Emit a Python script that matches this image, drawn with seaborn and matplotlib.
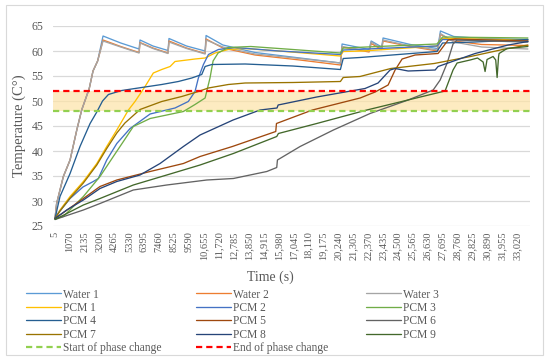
import matplotlib
matplotlib.use("Agg")
import matplotlib.pyplot as plt
import seaborn as sns
import pandas as pd
from matplotlib.lines import Line2D
from matplotlib.patches import Rectangle

# ---------------- data ----------------
tick_times = [5, 1070, 2135, 3200, 4265, 5330, 6395, 7460, 8525, 9590, 10655, 11720,
              12785, 13850, 14915, 15980, 17045, 18110, 19175, 20240, 21305, 22370,
              23435, 24500, 25565, 26630, 27695, 28760, 29825, 30890, 31955, 33020]
tick_labels = ["5", "1070", "2135", "3200", "4265", "5330", "6395", "7460", "8525", "9590",
               "10,655", "11,720", "12,785", "13,850", "14,915", "15,980", "17,045",
               "18,110", "19,175", "20,240", "21,305", "22,370", "23,435", "24,500",
               "25,565", "26,630", "27,695", "28,760", "29,825", "30,890", "31,955", "33,020"]

water1_t = [5, 120, 600, 1080, 1560, 1910, 2450, 2720, 3050, 3436, 4700, 6010, 6080, 7000, 8080,
            8150, 9400, 10730, 10800, 12000, 14300, 17500, 20400, 20520, 22450, 22600, 23350,
            23450, 25400, 27350, 27550, 28500, 30500, 33800]
water1_T = [26.5, 29.5, 34.9, 38.2, 44.2, 48.2, 52.5, 56.0, 58.0, 63.0, 61.6, 60.4, 62.2, 61.0, 60.1,
            62.5, 61.0, 60.0, 63.1, 61.2, 59.7, 58.6, 57.6, 61.4, 60.3, 62.0, 60.8,
            62.6, 61.3, 60.5, 64.0, 62.9, 62.5, 62.3]

water2_t = water1_t
water2_T = [26.5, 29.5, 34.9, 38.2, 44.2, 48.2, 52.5, 56.0, 58.0, 62.2, 60.9, 59.7, 61.7, 60.6, 59.6,
            62.0, 60.6, 59.5, 62.4, 60.6, 59.2, 58.2, 57.2, 60.8, 59.8, 61.5, 60.3,
            62.0, 60.9, 60.0, 63.3, 62.0, 61.3, 61.1]

water3_t = water1_t
water3_T = [26.5, 29.5, 34.9, 38.2, 44.2, 48.2, 52.5, 56.0, 58.0, 62.0, 60.8, 59.6, 61.6, 60.5, 59.5,
            61.8, 60.5, 59.4, 62.2, 60.8, 59.4, 58.5, 57.6, 60.9, 60.0, 61.8, 60.5,
            62.2, 61.0, 60.2, 63.5, 61.8, 60.8, 60.4]

pcm1_t = [5, 360, 1080, 2030, 2990, 3700, 4420, 5250, 5720, 6440, 7030, 7630, 8230, 8580, 10010,
          10730, 11440, 12390, 13590, 16000, 20400, 20600, 22000, 27300, 27700, 30000, 33800]
pcm1_T = [26.5, 28.2, 30.9, 33.9, 37.5, 40.9, 44.2, 48.2, 49.9, 52.9, 55.6, 56.3, 56.9, 57.9, 58.4,
          58.6, 59.6, 60.3, 60.5, 60.0, 59.0, 59.9, 60.0, 61.0, 62.5, 62.4, 62.2]

pcm2_t = [5, 130, 1080, 2000, 2740, 3100, 3700, 4420, 5370, 6800, 8580, 9530, 10010, 10250, 10610,
          10970, 11680, 12870, 16000, 20400, 20600, 27300, 27700, 33800]
pcm2_T = [26.5, 27.2, 30.5, 32.8, 33.9, 34.5, 38.2, 41.5, 44.5, 47.4, 48.6, 49.9, 51.9, 54.6, 57.3,
          59.3, 60.3, 60.7, 60.0, 59.3, 60.2, 61.0, 62.3, 62.0]

pcm3_t = [5, 600, 2030, 3220, 4170, 4890, 5600, 6800, 9180, 10010, 10730, 11080, 11300, 11660,
          12370, 14000, 17000, 20400, 20600, 27300, 27700, 33800]
pcm3_T = [26.5, 26.9, 30.9, 34.9, 38.9, 41.9, 44.9, 46.5, 47.9, 49.3, 50.6, 54.6, 58.0, 59.6,
          60.7, 60.9, 60.3, 59.6, 60.6, 61.4, 62.8, 62.6]

pcm4_t = [5, 360, 1080, 1790, 2510, 2990, 3400, 3820, 4770, 5960, 7630, 8820, 9780, 10490, 10730,
          11210, 13590, 17000, 20400, 20600, 21800, 27300, 27700, 30000, 33800]
pcm4_T = [26.5, 30.9, 35.5, 40.9, 45.5, 47.8, 50.0, 51.3, 52.1, 52.6, 53.3, 53.9, 54.6, 55.3, 56.9,
          57.3, 57.4, 57.0, 56.3, 58.5, 58.7, 59.9, 61.6, 61.8, 62.3]

pcm5_t = [5, 2030, 3220, 4420, 6800, 9180, 10370, 12680, 15780, 15830, 18400, 21810, 22880, 23810,
          24310, 24810, 25740, 27380, 28100, 28600, 31000, 33800]
pcm5_T = [26.5, 30.5, 32.9, 34.2, 35.9, 37.5, 38.9, 40.9, 43.9, 45.5, 48.2, 50.6, 51.8, 53.2,
          56.2, 58.4, 59.2, 59.5, 62.2, 62.4, 62.2, 62.0]

pcm6_t = [5, 2030, 3220, 5600, 7990, 10850, 12750, 15140, 15850, 15900, 17520, 19900, 22520, 25240,
          27030, 27530, 28030, 28450, 28740, 31000, 33800]
pcm6_T = [26.3, 28.2, 29.5, 32.2, 33.2, 34.2, 34.5, 35.9, 36.7, 38.2, 40.9, 44.2, 47.5, 50.2,
          52.2, 54.2, 57.6, 61.4, 62.2, 62.0, 61.8]

pcm7_t = [5, 360, 1080, 2030, 2990, 3700, 4420, 5000, 6080, 7630, 9060, 10250, 10960, 12390, 13590,
          17000, 20400, 20600, 21800, 24000, 27100, 29700, 32000, 33800]
pcm7_T = [26.5, 28.0, 30.6, 33.6, 37.2, 40.5, 43.6, 45.6, 48.3, 49.9, 50.9, 51.9, 52.6, 53.3, 53.6,
          53.7, 53.9, 54.7, 54.9, 56.5, 57.5, 58.9, 60.3, 61.2]

pcm8_t = [5, 840, 2030, 3220, 4420, 6080, 7510, 9180, 10370, 12730, 14660, 15870, 15950, 18710,
          22160, 23090, 23950, 24310, 25240, 27170, 27380, 30030, 32390, 33800]
pcm8_T = [26.5, 28.2, 30.2, 32.5, 33.9, 35.2, 37.5, 40.9, 43.2, 46.2, 48.2, 48.6, 49.2, 50.8,
          52.5, 53.6, 56.2, 56.5, 56.0, 56.2, 56.9, 59.5, 61.2, 61.9]

pcm9_t = [5, 2030, 3220, 5600, 7990, 10370, 12750, 15850, 15970, 18710, 22290, 27880, 28450, 28740,
          29670, 30200, 30600, 30740, 30880, 31310, 31500, 31600, 31700, 31740, 32310, 33800]
pcm9_T = [26.3, 29.2, 30.5, 33.2, 35.2, 37.2, 39.5, 42.9, 43.5, 45.5, 48.2, 52.0, 56.2, 57.6,
          58.2, 58.6, 57.8, 55.9, 58.3, 58.9, 58.2, 54.7, 58.8, 59.5, 60.5, 60.9]

phase_start = 48
phase_end = 52

series_names = ["Water 1", "Water 2", "Water 3", "PCM 1", "PCM 2", "PCM 3",
                "PCM 4", "PCM 5", "PCM 6", "PCM 7", "PCM 8", "PCM 9"]
series_colors = ["#5B9BD5", "#ED7D31", "#A5A5A5", "#FFC000", "#4472C4", "#70AD47",
                 "#255E91", "#9E480E", "#636363", "#997300", "#264478", "#43682B"]
series_data = [(water1_t, water1_T), (water2_t, water2_T), (water3_t, water3_T),
               (pcm1_t, pcm1_T), (pcm2_t, pcm2_T), (pcm3_t, pcm3_T),
               (pcm4_t, pcm4_T), (pcm5_t, pcm5_T), (pcm6_t, pcm6_T),
               (pcm7_t, pcm7_T), (pcm8_t, pcm8_T), (pcm9_t, pcm9_T)]

df = pd.concat([pd.DataFrame({"Time": t, "Temp": T, "Series": n})
                for n, (t, T) in zip(series_names, series_data)], ignore_index=True)

# ---------------- style ----------------
sns.set_theme(style="white")
plt.rcParams["font.family"] = ["Liberation Serif", "DejaVu Serif"]
TXT = "#595959"
LW = 0.95
DLW = 1.6
DASH = (2.8, 1.8)

fig = plt.figure(figsize=(5.5, 3.6), dpi=100)
ax = fig.add_axes([53 / 550, 1 - 226 / 360, (530 - 53) / 550, 200 / 360])

for y in range(25, 70, 5):
    ax.axhline(y, color="#D9D9D9", lw=0.9, zorder=0)
ax.axhspan(phase_start, phase_end, color="#FDE3A7", alpha=0.7, lw=0, zorder=1)

sns.lineplot(data=df, x="Time", y="Temp", hue="Series", hue_order=series_names,
             palette=dict(zip(series_names, series_colors)), estimator=None, sort=False,
             legend=False, linewidth=LW, ax=ax, zorder=2)

ax.axhline(phase_start, color="#92D050", lw=DLW, dashes=DASH, zorder=3)
ax.axhline(phase_end, color="#FF0000", lw=DLW, dashes=DASH, zorder=3)

ax.set_xlim(-140, 33950)
ax.set_ylim(25, 65)
ax.set_xticks(tick_times)
ax.set_xticklabels(tick_labels, rotation=90, fontsize=7.5, color=TXT)
ax.set_yticks(range(25, 70, 5))
ax.set_yticklabels([str(v) for v in range(25, 70, 5)], fontsize=8.5, color=TXT)
ax.tick_params(axis="both", length=0)
ax.tick_params(axis="y", pad=7)
ax.tick_params(axis="x", pad=4)
for s in ax.spines.values():
    s.set_visible(False)
ax.set_xlabel("")
ax.set_ylabel("Temperature (C°)", fontsize=10.5, color=TXT, labelpad=4)
fig.text(270 / 550, 1 - 277 / 360, "Time (s)", fontsize=10, color=TXT, ha="center", va="center")

# ---------------- legend (three columns) ----------------
handles = [Line2D([], [], color=c, lw=LW) for c in series_colors]
h_start = Line2D([], [], color="#92D050", lw=DLW, dashes=DASH)
h_end = Line2D([], [], color="#FF0000", lw=DLW, dashes=DASH)
cols = [
    ([handles[0], handles[3], handles[6], handles[9], h_start],
     ["Water 1", "PCM 1", "PCM 4", "PCM 7", "Start of phase change"], 26),
    ([handles[1], handles[4], handles[7], handles[10], h_end],
     ["Water 2", "PCM 2", "PCM 5", "PCM 8", "End of phase change"], 196),
    ([handles[2], handles[5], handles[8], handles[11]],
     ["Water 3", "PCM 3", "PCM 6", "PCM 9"], 366),
]
for hs, ls, x0 in cols:
    leg = fig.legend(hs, ls, loc="upper left", bbox_to_anchor=(x0 / 550, 1 - 288.5 / 360),
                     frameon=False, fontsize=8.3, handlelength=3.0, handletextpad=0.25,
                     labelspacing=0.12, borderpad=0, borderaxespad=0)
    for t in leg.get_texts():
        t.set_color(TXT)

fig.add_artist(Rectangle((6 / 550, 5 / 360), (543 - 6) / 550, (355 - 5) / 360,
                         transform=fig.transFigure, fill=False, edgecolor="#D9D9D9", lw=0.8))

fig.savefig("out.png", dpi=100)
